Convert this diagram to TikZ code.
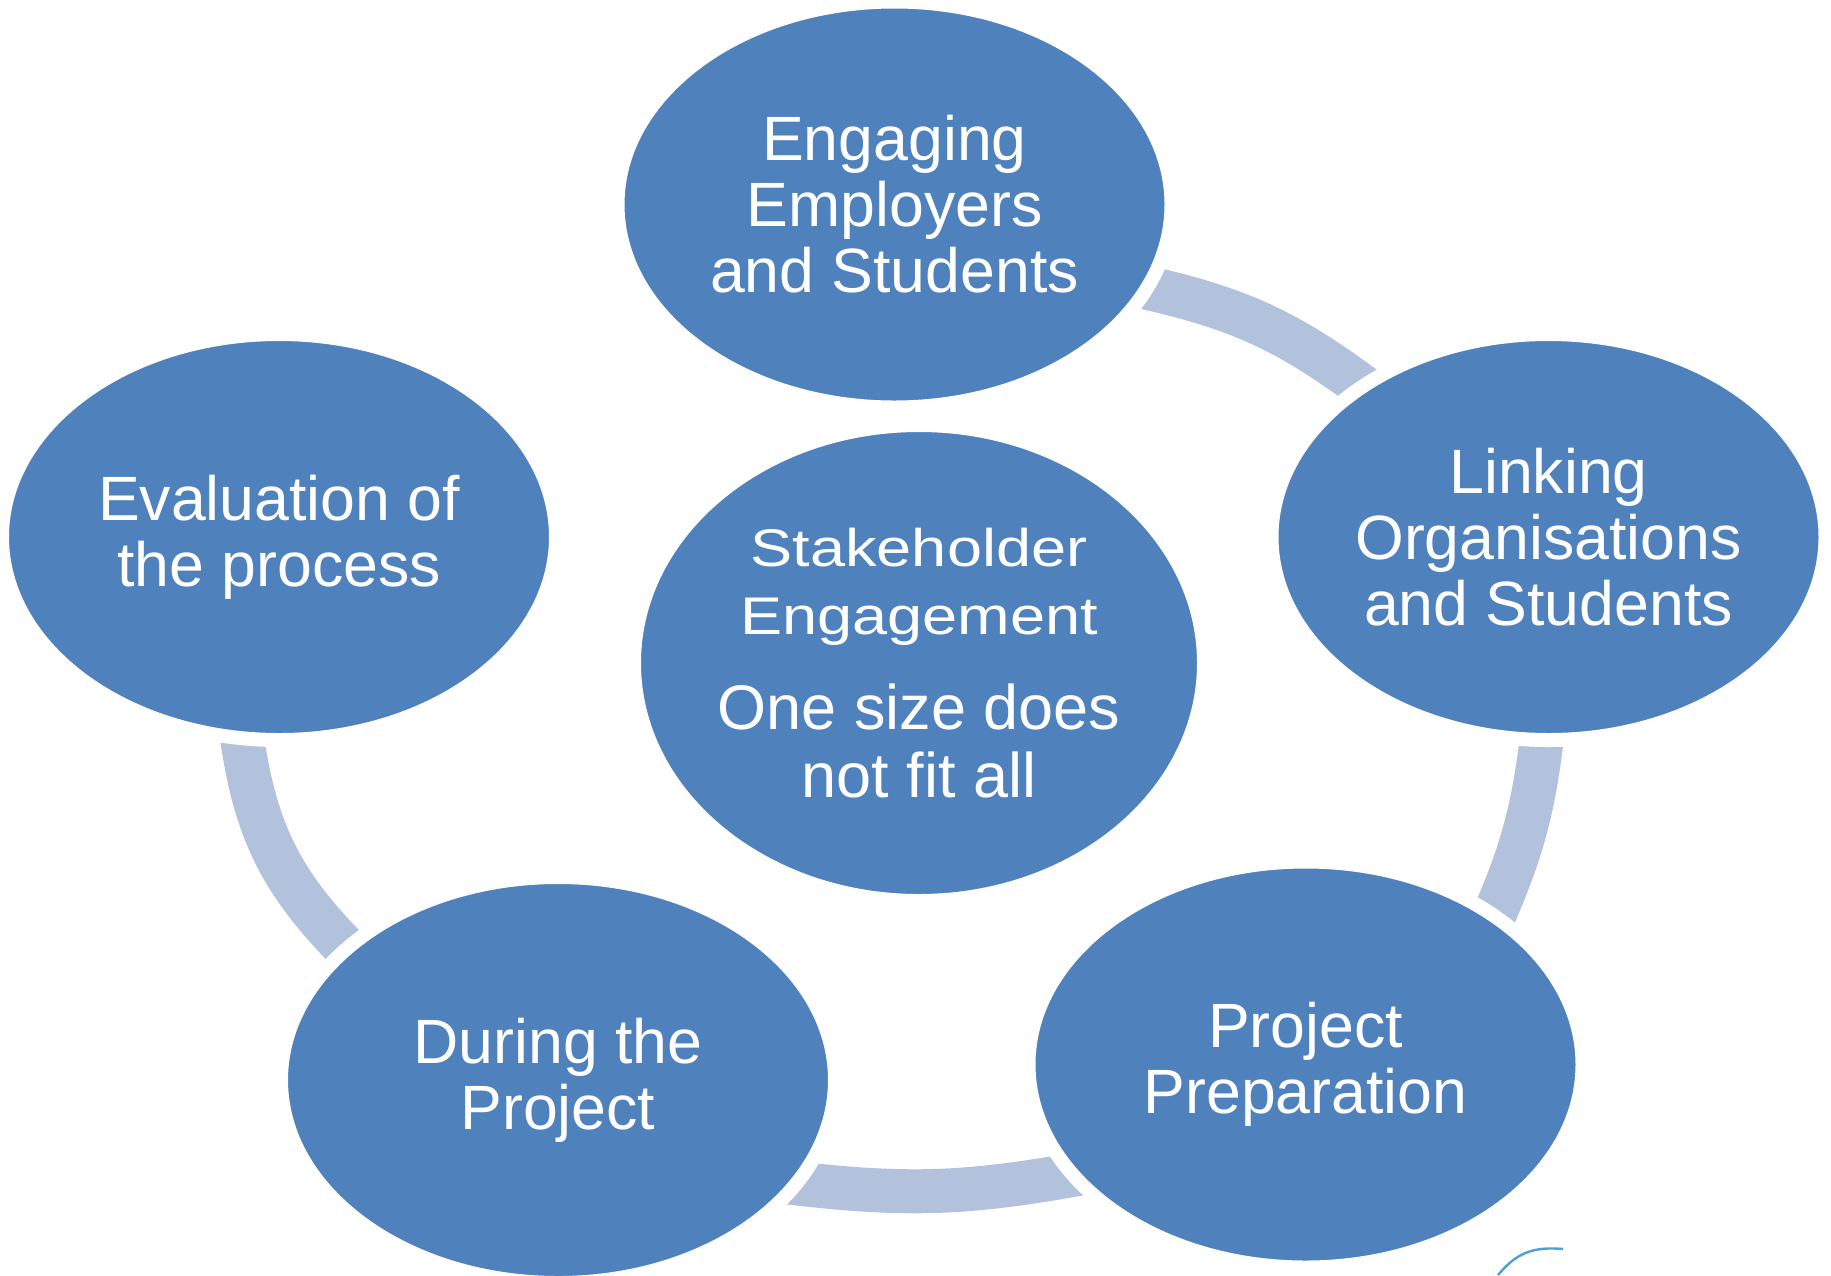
\documentclass[tikz,border=0pt]{standalone}
\usepackage{fontspec}
\setmainfont{Liberation Sans}
\newfontfamily\squashfont[FakeStretch=1.19]{Liberation Sans}
\usetikzlibrary{shapes.geometric,backgrounds}
\definecolor{stageblue}{RGB}{79,129,189}
\definecolor{ringblue}{RGB}{178,194,221}
\definecolor{logoblue}{RGB}{75,160,215}

\begin{document}
\begin{tikzpicture}[x=0.5pt,y=-0.5pt,
            stage/.style={ellipse,fill=stageblue,draw=white,line width=7pt,
                minimum width=277pt,minimum height=203pt,inner sep=0pt,
                text=white,align=center,font=\fontsize{31.3}{33}\selectfont},
            hub/.style={stage,minimum width=285pt,minimum height=238pt,
                font=\fontsize{31.5}{34}\selectfont},
            ring/.style={draw=ringblue,line width=22pt,
                shorten <=-20pt,shorten >=-20pt},
            ]
            \useasboundingbox (0,0) rectangle (1831,1275);

            % the five stages round the hub
            \node[stage] (engage) at (894.5,204.5) {Engaging\\Employers\\and Students};
            \node[stage] (link) at (1548.5,537) {Linking\\Organisations\\and Students};
            \node[stage] (prep) at (1305.5,1064.5) {Project\\Preparation};
            \node[stage] (during) at (558,1080) {During the\\Project};
            \node[stage] (evaluate) at (279,537) {Evaluation of\\the process};

            \node[hub] (stake) at (919,663)
                {{\squashfont\fontsize{26.5}{34}\selectfont Stakeholder}\\
                 {\squashfont\fontsize{26.5}{34}\selectfont Engagement}\\[13.5pt]
                 One size does\\not fit all};

            \begin{scope}[on background layer]
                \draw[ring] (engage.-18.3) to[bend left=13] (link.141.6);
                \draw[ring] (link.-92.4) to[bend left=9] (prep.39.3);
                \draw[ring] (prep.-155) to[bend left=9] (during.-23.3);
                \draw[ring] (during.148) to[bend left=20] (evaluate.-100.9);
            \end{scope}

            \draw[logoblue,line width=1.2pt] (1498,1275) .. controls (1515,1255) and (1530,1246) .. (1563,1249);
\end{tikzpicture}
\end{document}
